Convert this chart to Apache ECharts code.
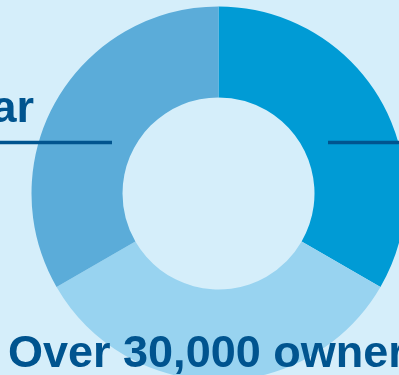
<!DOCTYPE html>
<html>
<head>
<meta charset="utf-8">
<script src="https://cdn.jsdelivr.net/npm/echarts@6/dist/echarts.min.js"></script>
<style>
html,body{margin:0;padding:0;background:#D5EEFA;}
#c{width:399px;height:375px;}
</style>
</head>
<body>
<div id="c"></div>
<script>
var categories = ['Over 30,000 owners', 'Segment B', 'Under a year'];
var values = [1, 1, 1];
var sliceColors = ['#009BD5', '#98D3F0', '#5BACD9'];
var labelLeft = 'Under a year';
var labelBottom = 'Over 30,000 owners';

var chart = echarts.init(document.getElementById('c'), null, {renderer: 'canvas'});
var textColor = '#00548F';
chart.setOption({
  backgroundColor: '#D5EEFA',
  animation: false,
  series: [{
    type: 'pie',
    center: [218.5, 193.5],
    radius: [96, 187],
    startAngle: 90,
    clockwise: true,
    silent: true,
    label: {show: false},
    labelLine: {show: false},
    data: categories.map(function (c, i) {
      return {name: c, value: values[i], itemStyle: {color: sliceColors[i]}};
    })
  }],
  graphic: [
    {type: 'line', z: 100, shape: {x1: 0, y1: 142.5, x2: 112, y2: 142.5}, style: {stroke: textColor, lineWidth: 3.5}},
    {type: 'line', z: 100, shape: {x1: 328, y1: 142.5, x2: 399, y2: 142.5}, style: {stroke: textColor, lineWidth: 3.5}},
    {type: 'text', z: 100, x: 34, y: 110, style: {text: labelLeft, fill: textColor, font: 'bold 45px "Liberation Sans", Arial, sans-serif', align: 'right', verticalAlign: 'middle'}},
    {type: 'text', z: 100, x: 8, y: 355, style: {text: labelBottom, fill: textColor, font: 'bold 45px "Liberation Sans", Arial, sans-serif', align: 'left', verticalAlign: 'middle'}}
  ]
});
</script>
</body>
</html>
